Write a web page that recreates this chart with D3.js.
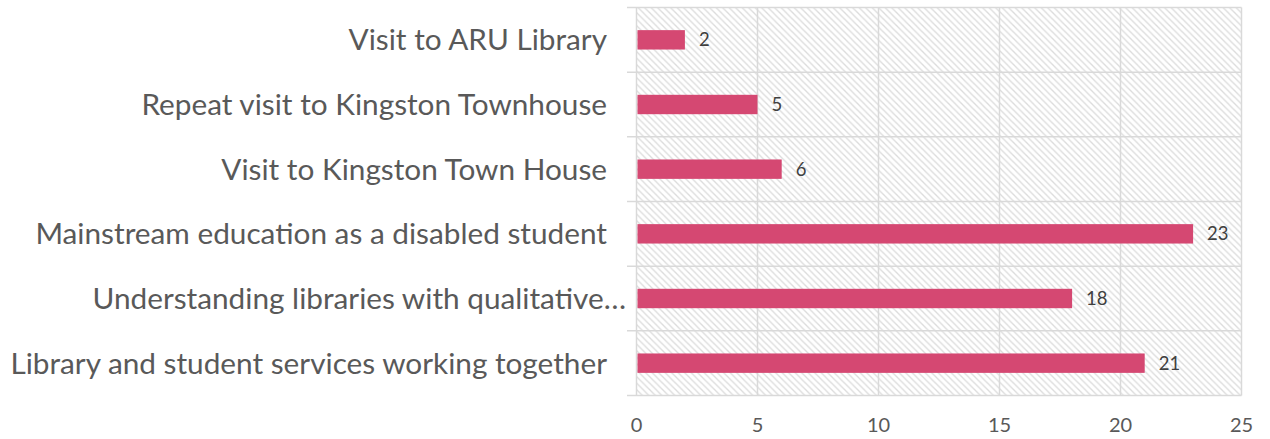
<!DOCTYPE html>
<html><head><meta charset="utf-8">
<script src="https://cdn.jsdelivr.net/npm/d3@7"></script>
<style>body{margin:0;background:#fff}svg{display:block}</style>
</head><body>
<svg id="chart" width="1270" height="439"></svg>
<script>
const categories = [
  "Visit to ARU Library",
  "Repeat visit to Kingston Townhouse",
  "Visit to Kingston Town House",
  "Mainstream education as a disabled student",
  "Understanding libraries with qualitative…",
  "Library and student services working together"
];
const values = [2, 5, 6, 23, 18, 21];
const xTicks = [0, 5, 10, 15, 20, 25];

const svg = d3.select("#chart");
const m = {left: 636.5, right: 1241.5, top: 7.5, bottom: 395.5};
const x = d3.scaleLinear().domain([0, 25]).range([m.left, m.right]);
const y = d3.scaleBand().domain(categories).range([m.top, m.bottom]).paddingInner(0.7).paddingOuter(0.35);
const yb = d3.scaleBand().domain(categories).range([m.top, m.bottom]);

const defs = svg.append("defs");
const p = defs.append("pattern").attr("id","hatch").attr("patternUnits","userSpaceOnUse")
  .attr("width",6.5).attr("height",6.5);
p.append("rect").attr("width",6.5).attr("height",6.5).attr("fill","#fff");
p.append("path").attr("d","M-1,-1 L7.5,7.5 M-1,5.5 L1,7.5 M5.5,-1 L7.5,1")
  .attr("stroke","#dcdcdc").attr("stroke-width",1.3);

svg.append("rect").attr("x",m.left).attr("y",m.top).attr("width",m.right-m.left).attr("height",m.bottom-m.top)
  .attr("fill","url(#hatch)");

const grid = "#d9d9d9";
svg.append("g").selectAll("line").data(xTicks).join("line")
  .attr("x1",d=>x(d)).attr("x2",d=>x(d)).attr("y1",m.top).attr("y2",m.bottom)
  .attr("stroke",grid).attr("stroke-width",1.5);
const seps = categories.map(c=>yb(c)).concat([m.bottom]);
svg.append("g").selectAll("line").data(seps).join("line")
  .attr("x1",627).attr("x2",m.right).attr("y1",d=>d).attr("y2",d=>d)
  .attr("stroke",grid).attr("stroke-width",1.5);

svg.append("g").selectAll("rect").data(values).join("rect")
  .attr("x",x(0)+1).attr("y",(d,i)=>y(categories[i]))
  .attr("width",d=>x(d)-x(0)-1).attr("height",y.bandwidth())
  .attr("fill","#D54872");

const font = "Lato, 'Open Sans', sans-serif";
svg.append("g").selectAll("text").data(values).join("text")
  .attr("x",d=>x(d)+14).attr("y",(d,i)=>y(categories[i])+y.bandwidth()/2)
  .attr("dy","0.35em").attr("font-family",font).attr("font-size",18.5)
  .attr("fill","#404040").text(d=>d);

svg.append("g").selectAll("text").data(xTicks).join("text")
  .attr("x",d=>x(d)).attr("y",425).attr("dy","0.35em").attr("text-anchor","middle")
  .attr("font-family",font).attr("font-size",20)
  .attr("fill","#595959").text(d=>d);

const cl = svg.append("g").selectAll("text").data(categories).join("text")
  .attr("x",d=>d.endsWith("…") ? 626 : 607)
  .attr("y",d=>yb(d)+yb.bandwidth()/2).attr("dy","0.35em").attr("text-anchor","end")
  .attr("font-family",font).attr("font-size",26)
  .attr("fill","#595959").text(d=>d);
const longest = cl.filter(d=>d.startsWith("Library")).node();
const w = longest.getComputedTextLength();
cl.attr("font-size", 26 * 597 / w);
</script>
</body></html>
